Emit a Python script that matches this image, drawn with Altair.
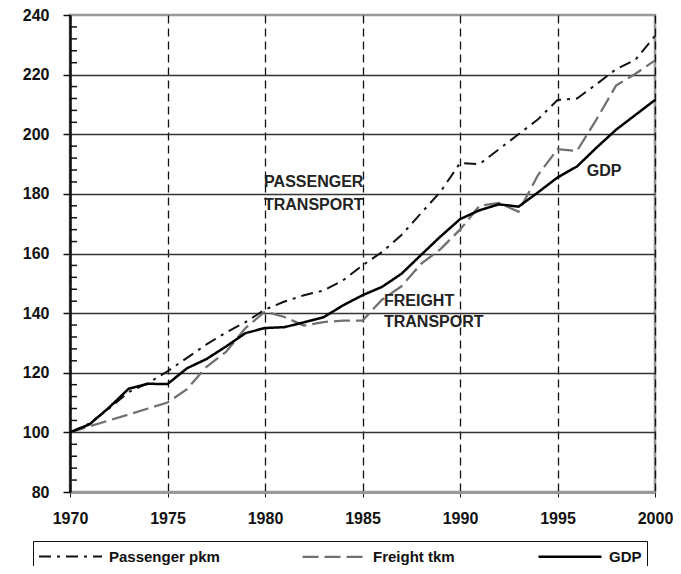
import altair as alt
import pandas as pd

years = list(range(1970, 2001))
gdp = [100, 102.7, 108.3, 114.6, 116.3, 116.2, 121.5, 124.6, 128.8, 133.3, 135, 135.3, 136.9, 138.6, 142.6, 146,
       148.8, 153.2, 159.5, 165.7, 171.5, 174.5, 176.5, 175.7, 180.5, 185.5, 189.2, 195.5, 201.5, 206.5, 211.5]
passenger = [100, 103, 108, 113.5, 116.5, 120.5, 125, 129.5, 133.5, 137, 141.2, 143.9, 146, 147.6, 151, 156,
             160.5, 166.2, 173.5, 180.7, 190.3, 190, 195, 200, 205, 211.5, 212, 216.8, 221.8, 225, 233]
freight = [100, 102, 104, 106, 108, 110, 114.5, 122, 127, 135, 140.5, 138.7, 135.8, 137, 137.5, 137.5,
           144.5, 149, 156.5, 161.5, 168, 176, 177, 174, 186.3, 195, 194.4, 205, 216.3, 220.3, 224.8]

series_names = ["Passenger pkm", "Freight tkm", "GDP"]

major_y = list(range(80, 241, 20))
minor_y = [v for v in range(80, 241, 4) if v % 20 != 0]
x_ticks = list(range(1970, 2001, 5))

ann_text = ["PASSENGER", "TRANSPORT", "FREIGHT", "TRANSPORT", "GDP"]
ann_year = [1982.5, 1982.5, 1986.1, 1986.1, 1996.5]
ann_val = [183.9, 176.2, 144.0, 136.9, 187.6]
ann_align = ["center", "center", "left", "left", "left"]

rows = []
for name, vals in zip(series_names, [passenger, freight, gdp]):
    for y, v in zip(years, vals):
        rows.append({"Year": y, "Index": v, "Series": name})
df = pd.DataFrame(rows)

ann = pd.DataFrame({"text": ann_text, "Year": ann_year, "Index": ann_val, "align": ann_align})
minor_df = pd.DataFrame({"Index": minor_y})

FONT = "Liberation Sans"

x_scale = alt.Scale(domain=[1970, 2000], nice=False, zero=False)
y_scale = alt.Scale(domain=[80, 240], nice=False, zero=False)

x_axis = alt.Axis(values=x_ticks, format="d", title=None,
                  grid=True, gridColor="#111", gridDash=[8, 5], gridWidth=1.3,
                  domainColor="#999", domainWidth=3, tickColor="#111", tickSize=5,
                  labelFont=FONT, labelFontSize=16, labelFontWeight="bold", labelColor="#111",
                  labelPadding=13, labelFlush=False, labelOverlap=False)
y_axis = alt.Axis(values=major_y, title=None,
                  grid=True, gridColor="#333", gridWidth=1.7,
                  gridOpacity={"condition": {"test": "datum.value > 80 && datum.value < 240", "value": 1}, "value": 0},
                  domainColor="#111", domainWidth=2.5, tickColor="#111", tickSize=7, tickWidth=1.5,
                  labelFont=FONT, labelFontSize=16, labelFontWeight="bold", labelColor="#111",
                  labelPadding=14, labelOverlap=False)

legend = alt.Legend(title=None, orient="none", direction="horizontal",
                    legendX=-37, legendY=526,
                    symbolType="M-1,0H6", symbolSize=324,
                    labelFont=FONT, labelFontSize=15, labelFontWeight="bold",
                    labelColor="#111", labelOffset=51, columnPadding=78,
                    strokeColor="#111", padding=5, fillColor="white")

lines = alt.Chart(df).mark_line(strokeCap="butt").encode(
    x=alt.X("Year:Q", scale=x_scale, axis=x_axis),
    y=alt.Y("Index:Q", scale=y_scale, axis=y_axis),
    color=alt.Color("Series:N", scale=alt.Scale(domain=series_names, range=["#111", "#707070", "#000"]),
                    legend=legend),
    strokeDash=alt.StrokeDash("Series:N", scale=alt.Scale(domain=series_names,
                                                          range=[[12, 6, 3, 6], [16, 6], [1, 0]]),
                              legend=legend),
    strokeWidth=alt.StrokeWidth("Series:N", scale=alt.Scale(domain=series_names, range=[2, 2.5, 4.5]),
                                legend=legend),
)

minor_ticks = alt.Chart(minor_df).mark_rule(color="#111", strokeWidth=1.5).encode(
    y=alt.Y("Index:Q", scale=y_scale, axis=y_axis),
    x=alt.value(0),
    x2=alt.value(7),
)

ann_c = ann[ann["align"] == "center"]
ann_l = ann[ann["align"] == "left"]

texts_c = alt.Chart(ann_c).mark_text(font=FONT, fontSize=16, fontWeight="bold", color="#222",
                                     baseline="middle", align="center").encode(
    x=alt.X("Year:Q", scale=x_scale, axis=x_axis),
    y=alt.Y("Index:Q", scale=y_scale, axis=y_axis),
    text="text:N",
)
texts_l = alt.Chart(ann_l).mark_text(font=FONT, fontSize=16, fontWeight="bold", color="#222",
                                     baseline="middle", align="left").encode(
    x=alt.X("Year:Q", scale=x_scale, axis=x_axis),
    y=alt.Y("Index:Q", scale=y_scale, axis=y_axis),
    text="text:N",
)

chart = alt.layer(lines, minor_ticks, texts_c, texts_l).properties(
    width=585, height=477,
    padding={"left": 62, "top": 7, "right": 18, "bottom": 74},
    autosize="none",
).configure_view(stroke="#999", strokeWidth=2.5)

chart.save("out.html", embed_options={"renderer": "svg", "actions": False})
